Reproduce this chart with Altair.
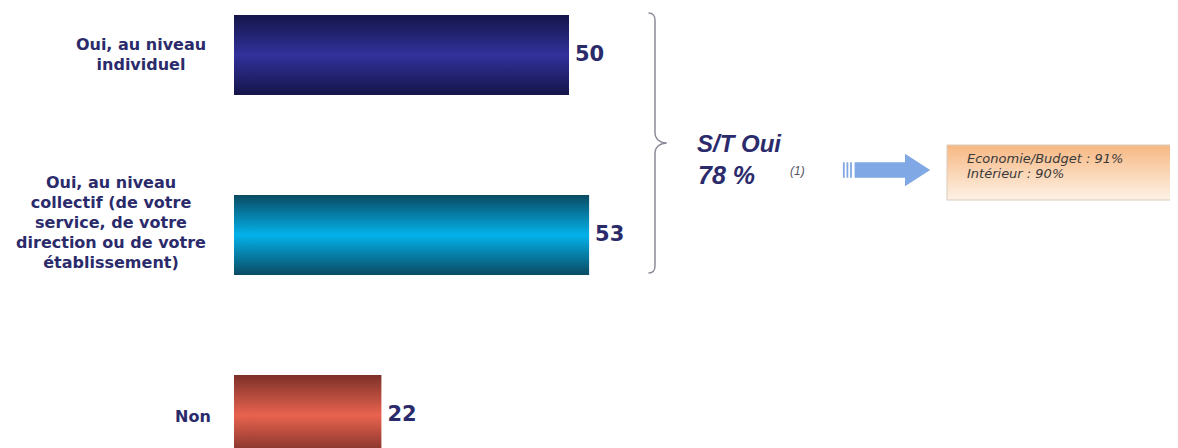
import altair as alt
import pandas as pd

# ---- data ----
categories = [
    "Oui, au niveau|individuel",
    "Oui, au niveau|collectif (de votre|service, de votre|direction ou de votre|établissement)",
    "Non",
]
values = [50, 53, 22]
summary_title = "S/T Oui"
summary_value = "78 %"
summary_note = "(1)"
detail_lines = ["Economie/Budget : 91%", "Intérieur : 90%"]

df = pd.DataFrame({"cat": categories, "val": values})

NAVY = "#2b2b6b"
x_scale = alt.Scale(domain=[0, 139.7], nice=False, zero=True)
y_scale = alt.Scale(domain=categories, range=[0, 454], paddingInner=0.5556, paddingOuter=0.0389)


def grad(edge, mid):
    return alt.Gradient(
        gradient="linear",
        stops=[
            alt.GradientStop(color=edge, offset=0),
            alt.GradientStop(color=mid, offset=0.5),
            alt.GradientStop(color=edge, offset=1),
        ],
        x1=0, x2=0, y1=0, y2=1,
    )


bar_grads = [grad("#15154a", "#31319c"), grad("#0a4a62", "#03b2ea"), grad("#7c3028", "#e9634f")]

base = alt.Chart(df)
X = alt.X("val:Q", scale=x_scale, axis=None)
Y = alt.Y("cat:N", scale=y_scale, axis=None, sort=categories)

layers = []
for i, c in enumerate(categories):
    layers.append(
        base.transform_filter(alt.datum.cat == c)
        .mark_bar(color=bar_grads[i])
        .encode(x=X, y=Y)
    )

# value labels
layers.append(
    base.mark_text(align="left", baseline="middle", dx=6, font="DejaVu Sans",
                   fontWeight="bold", fontSize=21, color=NAVY)
    .encode(x=X, y=Y, text="val:Q")
)

# category labels (multi-line, centred)
label_x = [-93, -123, -41]
label_dy = [-10, -52, 2]
for i, c in enumerate(categories):
    layers.append(
        base.transform_filter(alt.datum.cat == c)
        .transform_calculate(lines="split(datum.cat, '|')")
        .mark_text(align="center", baseline="middle", font="DejaVu Sans", fontWeight="bold",
                   fontSize=16, lineHeight=20, color=NAVY, dy=label_dy[i])
        .encode(x=alt.value(label_x[i]), y=Y, text="lines:N")
    )

one = pd.DataFrame({"k": [0]})

# brace
brace_path = ("M-0.05,-1 C-0.01,-1 0,-0.98 0,-0.94 L0,-0.08 C0,-0.03 0.04,0 0.09,0 "
              "C0.04,0 0,0.03 0,0.08 L0,0.94 C0,0.98 -0.01,1 -0.05,1")
layers.append(
    alt.Chart(one).mark_point(shape=brace_path, filled=False, stroke="#8a8a98", strokeWidth=1.5,
                              size=67600, opacity=1)
    .encode(x=alt.value(421), y=alt.value(135))
)

# summary text
layers.append(
    alt.Chart(pd.DataFrame({"t": [summary_title]})).mark_text(
        align="left", baseline="alphabetic", font="Liberation Sans", fontStyle="italic",
        fontWeight="bold", fontSize=24, color=NAVY)
    .encode(x=alt.value(463), y=alt.value(144), text="t:N")
)
layers.append(
    alt.Chart(pd.DataFrame({"t": [summary_value]})).mark_text(
        align="left", baseline="alphabetic", font="Liberation Sans", fontStyle="italic",
        fontWeight="bold", fontSize=25, color=NAVY)
    .encode(x=alt.value(464), y=alt.value(176), text="t:N")
)
layers.append(
    alt.Chart(pd.DataFrame({"t": [summary_note]})).mark_text(
        align="left", baseline="alphabetic", font="Liberation Sans", fontStyle="italic",
        fontSize=12, color="#555566")
    .encode(x=alt.value(556), y=alt.value(167), text="t:N")
)

# arrow
arrow_path = ("M-0.98,-0.17 L-0.94,-0.17 L-0.94,0.17 L-0.98,0.17 Z "
              "M-0.9,-0.17 L-0.86,-0.17 L-0.86,0.17 L-0.9,0.17 Z "
              "M-0.82,-0.17 L-0.78,-0.17 L-0.78,0.17 L-0.82,0.17 Z "
              "M-0.72,-0.17 L0.4,-0.17 L0.4,-0.36 L0.96,0 L0.4,0.36 L0.4,0.17 L-0.72,0.17 Z")
layers.append(
    alt.Chart(one).mark_point(shape=arrow_path, filled=True, fill="#80a8e4", strokeWidth=0,
                              size=8100, opacity=1)
    .encode(x=alt.value(653), y=alt.value(162))
)

# detail box
box_grad = alt.Gradient(
    gradient="linear",
    stops=[alt.GradientStop(color="#f7b883", offset=0), alt.GradientStop(color="#fdf2e6", offset=1)],
    x1=0, x2=0, y1=0, y2=1,
)
layers.append(
    alt.Chart(one).mark_rect(color=box_grad, stroke="#d9cbbd", strokeWidth=1)
    .encode(x=alt.value(713), x2=alt.value(980), y=alt.value(137), y2=alt.value(192))
)
layers.append(
    alt.Chart(pd.DataFrame({"t": ["|".join(detail_lines)]}))
    .transform_calculate(lines="split(datum.t, '|')")
    .mark_text(align="left", baseline="alphabetic", font="DejaVu Sans", fontStyle="italic",
               fontSize=13, lineHeight=15, color="#3a3a3a")
    .encode(x=alt.value(733), y=alt.value(155), text="lines:N")
)

chart = (
    alt.layer(*layers)
    .properties(width=936, height=440,
                padding={"left": 226, "top": 0, "right": 0, "bottom": 0},
                autosize=alt.AutoSizeParams(type="none"))
    .configure_view(stroke=None)
)

chart.save("out.html", embed_options={"renderer": "svg", "actions": False})
